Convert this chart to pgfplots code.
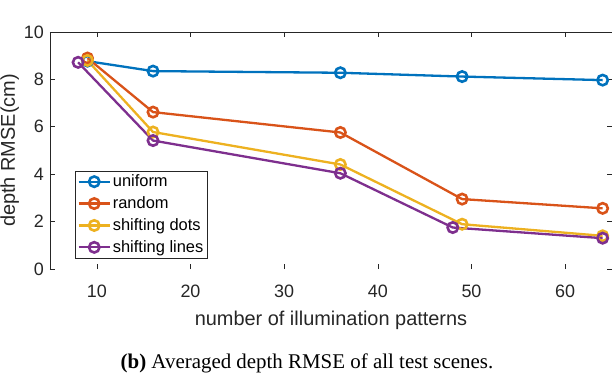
\documentclass[border=0pt]{standalone}
\usepackage{fontspec}
\setmainfont{Liberation Sans}
\newfontfamily\capfont{Liberation Serif}
\usepackage{pgfplots}
\pgfplotsset{compat=1.18}

\definecolor{mblue}{rgb}{0,0.447,0.741}
\definecolor{morange}{rgb}{0.85,0.325,0.098}
\definecolor{myellow}{rgb}{0.929,0.694,0.125}
\definecolor{mpurple}{rgb}{0.494,0.184,0.556}
\definecolor{axgray}{rgb}{0.15,0.15,0.15}

\begin{document}
\begin{tikzpicture}
\begin{axis}[
  scale only axis, width=562bp, height=237bp,
  xmin=5, xmax=65, ymin=0, ymax=10,
  xtick={10,20,...,60}, ytick={0,2,...,10},
  separate axis lines,
  x axis line style={draw=none},
  y axis line style={axgray, line width=0.6bp},
  tick align=inside, major tick length=5bp,
  every tick/.style={axgray, line width=0.6bp},
  /pgf/number format/assume math mode=true,
  tick label style={font=\fontsize{18}{20}\selectfont, text=axgray},
  xticklabel style={anchor=base, inner sep=0pt, yshift=-28bp},
  yticklabel style={anchor=east, inner sep=0pt, xshift=-6bp},
  xlabel={number of illumination patterns},
  ylabel={depth RMSE(cm)},
  label style={font=\fontsize{20}{22}\selectfont, text=axgray},
  xlabel style={at={(axis description cs:0.5,-0.2405)}, anchor=base},
  ylabel style={at={(axis description cs:-0.0623,0.5)}, anchor=base, rotate=0},
  every axis plot/.append style={line width=2.3bp, mark=o, mark size=5.2bp,
    mark options={line width=2.6bp, solid}},
  legend image code/.code={\draw[mark repeat=2, mark phase=2, #1]
    plot coordinates {(0bp,0bp) (15.5bp,0bp) (31bp,0bp)};},
  legend style={at={(axis description cs:0.045,0.045)}, anchor=south west,
    font=\fontsize{16.5}{18}\selectfont, text=black, draw=axgray,
    line width=0.6bp, fill=white, inner sep=2bp, row sep=4.5bp},
  legend cell align=left,
]
\addplot[mblue] coordinates {(9,8.77) (16,8.35) (36,8.28) (49,8.12) (64,7.97)};
\addlegendentry{uniform}
\addplot[morange] coordinates {(9,8.9) (16,6.62) (36,5.76) (49,2.95) (64,2.56)};
\addlegendentry{random}
\addplot[myellow] coordinates {(9,8.8) (16,5.78) (36,4.41) (49,1.89) (64,1.40)};
\addlegendentry{shifting dots}
\addplot[mpurple] coordinates {(8,8.72) (16,5.42) (36,4.04) (48,1.75) (64,1.30)};
\addlegendentry{shifting lines}
\end{axis}
\draw[axgray, line width=0.6bp] (current axis.north west) -- (current axis.north east);
\draw[axgray, line width=0.6bp] (current axis.south east) -- (current axis.north east);
\node[anchor=base, font=\capfont\fontsize{21}{24}\selectfont, inner sep=0pt]
  at ([shift={(257bp,-99bp)}]current axis.south west)
  {{\bfseries (b)} Averaged depth RMSE of all test scenes.};
\pgfresetboundingbox
\useasboundingbox ([shift={(-50bp,-107bp)}]current axis.south west)
  rectangle ([shift={(562bp,269bp)}]current axis.south west);
\end{tikzpicture}
\end{document}
